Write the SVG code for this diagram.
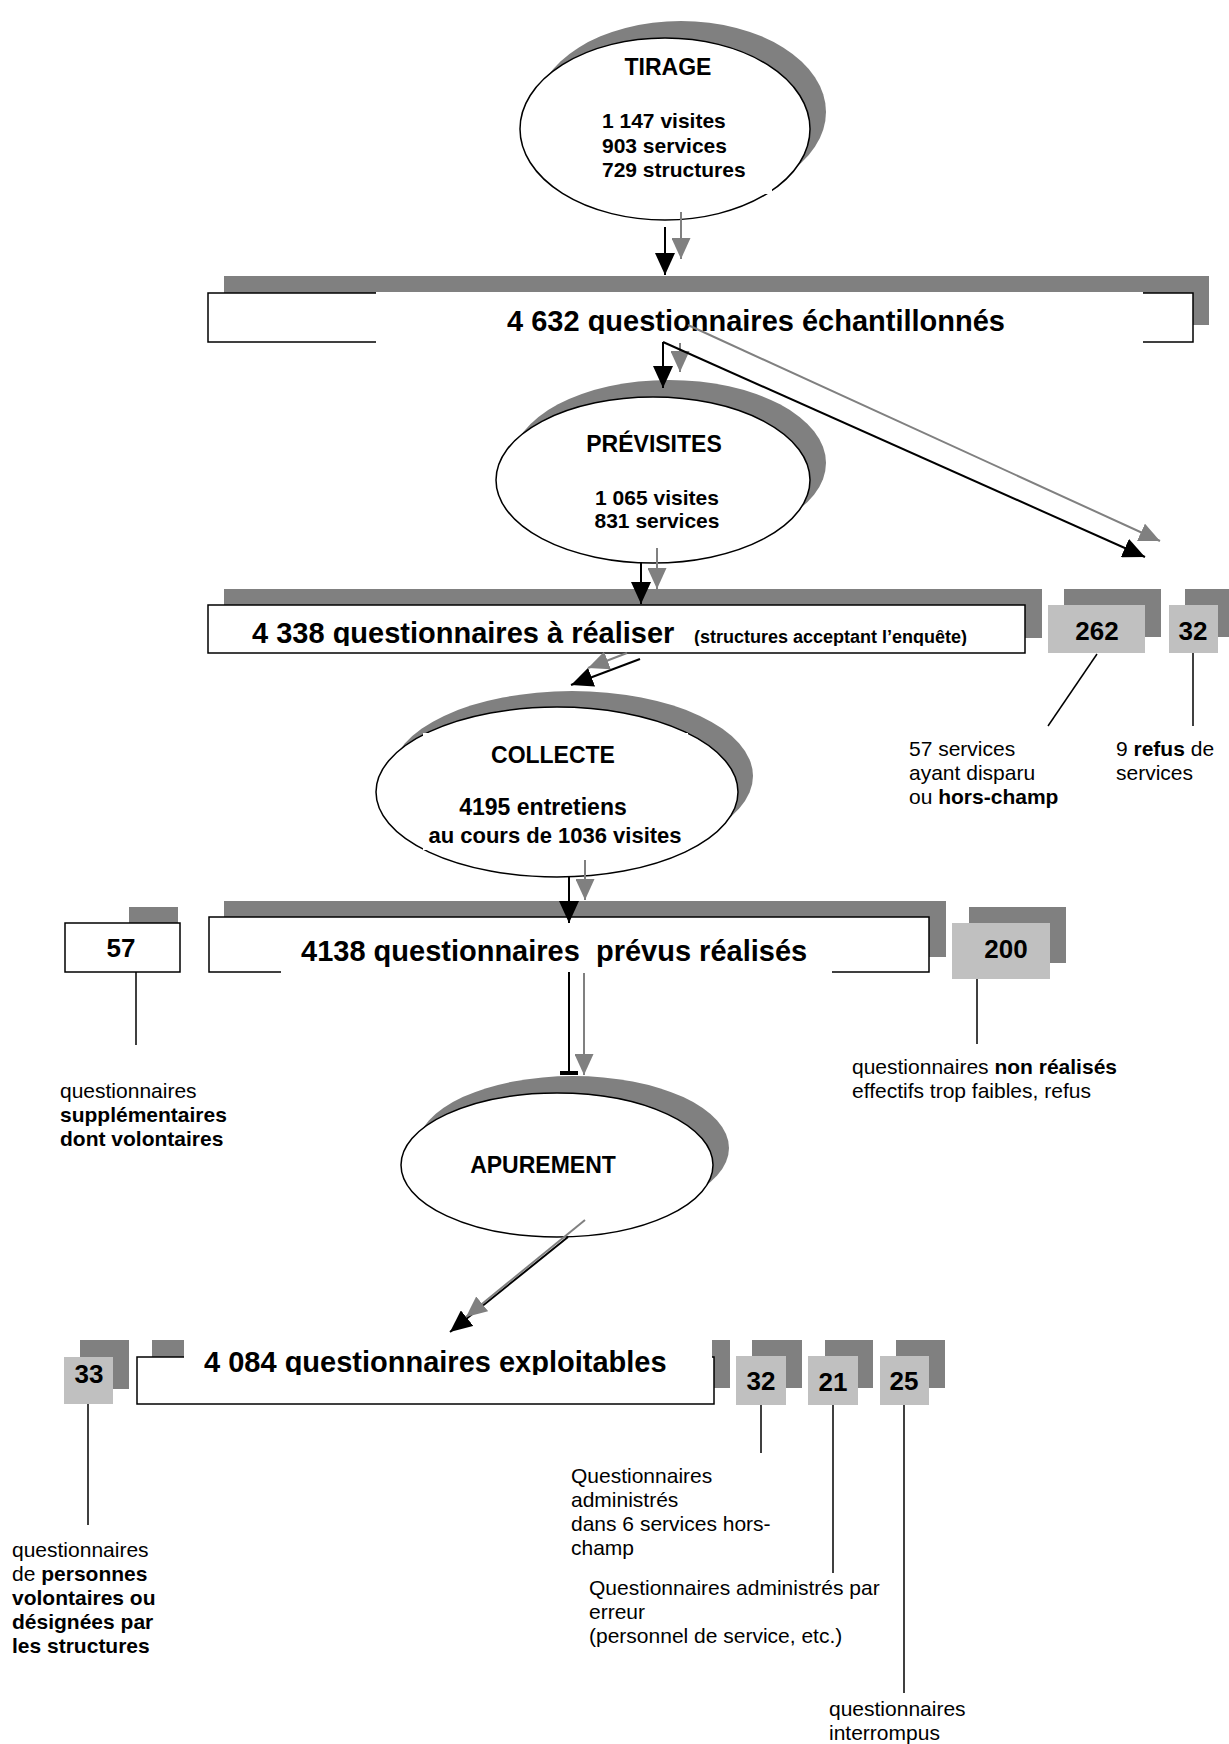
<svg xmlns="http://www.w3.org/2000/svg" width="1229" height="1744" viewBox="0 0 1229 1744">
<defs>
<style>
text{font-family:"Liberation Sans",Arial,sans-serif;fill:#000}
.t{font-size:23px;font-weight:bold;text-anchor:middle}
.b{font-size:21px;font-weight:bold}
.big{font-size:29px;font-weight:bold}
.sm{font-size:18px;font-weight:bold}
.num{font-size:26px;font-weight:bold;text-anchor:middle}
.lbl{font-size:21px}
.bo{font-weight:bold}
.sh{fill:#808080}
.lt{fill:#c0c0c0}
.wb{fill:#fff;stroke:#000;stroke-width:1.5}
.wf{fill:#fff}
.ln{stroke:#000;stroke-width:1.5;fill:none}
.ab{stroke:#000;stroke-width:2;fill:none;marker-end:url(#mb)}
.ag{stroke:#808080;stroke-width:2;fill:none;marker-end:url(#mg)}
</style>
<marker id="mb" viewBox="0 0 22 20" markerWidth="22" markerHeight="20" refX="22" refY="10" orient="auto" markerUnits="userSpaceOnUse"><path d="M0,0 L22,10 L0,20 z" fill="#000"/></marker>
<marker id="mg" viewBox="0 0 22 20" markerWidth="21" markerHeight="19" refX="22" refY="10" orient="auto" markerUnits="userSpaceOnUse"><path d="M0,0 L22,10 L0,20 z" fill="#808080"/></marker>
<clipPath id="c1"><rect x="200" y="270" width="1010" height="64"/></clipPath>
<clipPath id="c2"><rect x="200" y="590" width="830" height="56"/></clipPath>
<clipPath id="c3"><rect x="200" y="905" width="740" height="64"/></clipPath>
<clipPath id="c4"><rect x="140" y="1320" width="580" height="55"/></clipPath>
</defs>
<rect width="1229" height="1744" fill="#fff"/>

<g id="tirage">
<ellipse class="sh" cx="681" cy="112" rx="145" ry="91"/>
<ellipse class="wb" cx="665" cy="129" rx="145" ry="91"/>
<rect class="wf" x="740" y="150" width="32" height="44"/>
<text class="t" x="668" y="75">TIRAGE</text>
<text class="b" x="602" y="128">1 147 visites</text>
<text class="b" x="602" y="153">903 services</text>
<text class="b" x="602" y="177">729 structures</text>
</g>

<g id="echantillonnes">
<rect class="sh" x="224" y="276" width="985" height="49"/>
<rect class="wb" x="208" y="293" width="985" height="49"/>
<rect class="wf" x="376" y="292" width="767" height="52"/>
<text class="big" x="507" y="331" clip-path="url(#c1)">4 632 questionnaires échantillonnés</text>
</g>

<g id="previsites">
<ellipse class="sh" cx="669" cy="463" rx="157" ry="83"/>
<ellipse class="wb" cx="653" cy="480" rx="157" ry="83"/>
<text class="t" x="654" y="452">PRÉVISITES</text>
<text class="b" x="657" y="505" text-anchor="middle">1 065 visites</text>
<text class="b" x="657" y="528" text-anchor="middle">831 services</text>
</g>

<g id="a-realiser">
<rect class="sh" x="224" y="589" width="818" height="49"/>
<rect class="wb" x="208" y="605" width="817" height="48"/>
<text x="252" y="643" clip-path="url(#c2)"><tspan class="big">4 338 questionnaires à réaliser</tspan><tspan class="sm" x="689"> (structures acceptant l’enquête)</tspan></text>
</g>

<g id="n262">
<rect class="sh" x="1064" y="589" width="97" height="48"/>
<rect class="lt" x="1048" y="605" width="97" height="48"/>
<text class="num" x="1097" y="640">262</text>
<text class="lbl" x="909" y="756">57 services</text>
<text class="lbl" x="909" y="780">ayant disparu</text>
<text class="lbl" x="909" y="804">ou <tspan class="bo">hors-champ</tspan></text>
</g>

<g id="n32a">
<rect class="sh" x="1185" y="589" width="49" height="48"/>
<rect class="lt" x="1169" y="605" width="49" height="48"/>
<text class="num" x="1193" y="640">32</text>
<text class="lbl" x="1116" y="756">9 <tspan class="bo">refus</tspan> de</text>
<text class="lbl" x="1116" y="780">services</text>
</g>

<g id="collecte">
<ellipse class="sh" cx="572" cy="776" rx="181" ry="85"/>
<ellipse class="wb" cx="557" cy="792" rx="181" ry="85"/>
<rect class="wf" x="423" y="733" width="265" height="117"/>
<text class="t" x="553" y="763">COLLECTE</text>
<text class="b" x="543" y="815" text-anchor="middle" style="font-size:23px">4195 entretiens</text>
<text class="b" x="555" y="843" text-anchor="middle" style="font-size:22px">au cours de 1036 visites</text>
</g>

<g id="n57">
<rect class="sh" x="129" y="907" width="49" height="50"/>
<rect class="wb" x="65" y="923" width="115" height="49"/>
<text class="num" x="121" y="957">57</text>
<text class="lbl" x="60" y="1098">questionnaires</text>
<text class="lbl bo" x="60" y="1122">supplémentaires</text>
<text class="lbl bo" x="60" y="1146">dont volontaires</text>
</g>

<g id="realises">
<rect class="sh" x="224" y="901" width="722" height="56"/>
<rect class="wb" x="209" y="917" width="720" height="55"/>
<rect class="wf" x="281" y="962" width="551" height="13"/>
<text class="big" x="301" y="961" xml:space="preserve" clip-path="url(#c3)">4138 questionnaires  prévus réalisés</text>
</g>

<g id="n200">
<rect class="sh" x="969" y="907" width="97" height="56"/>
<rect class="lt" x="952" y="923" width="98" height="56"/>
<text class="num" x="1006" y="958">200</text>
<text class="lbl" x="852" y="1074">questionnaires <tspan class="bo">non réalisés</tspan></text>
<text class="lbl" x="852" y="1098">effectifs trop faibles, refus</text>
</g>

<g id="apurement">
<ellipse class="sh" cx="573" cy="1148" rx="156" ry="72"/>
<ellipse class="wb" cx="557" cy="1165" rx="156" ry="72"/>
<text class="t" x="543" y="1173">APUREMENT</text>
</g>

<g id="exploitables">
<rect class="sh" x="152" y="1340" width="578" height="48"/>
<rect class="wb" x="137" y="1357" width="577" height="47"/>
<rect class="wf" x="184" y="1333" width="528" height="44"/>
<text class="big" x="204" y="1372" clip-path="url(#c4)">4 084 questionnaires exploitables</text>
</g>

<g id="n33">
<rect class="sh" x="80" y="1340" width="49" height="49"/>
<rect class="lt" x="64" y="1357" width="49" height="47"/>
<text class="num" x="89" y="1383">33</text>
<text class="lbl" x="12" y="1557">questionnaires</text>
<text class="lbl" x="12" y="1581">de <tspan class="bo">personnes</tspan></text>
<text class="lbl bo" x="12" y="1605">volontaires ou</text>
<text class="lbl bo" x="12" y="1629">désignées par</text>
<text class="lbl bo" x="12" y="1653">les structures</text>
</g>

<g id="n32b">
<rect class="sh" x="752" y="1340" width="50" height="48"/>
<rect class="lt" x="736" y="1356" width="50" height="49"/>
<text class="num" x="761" y="1390">32</text>
<text class="lbl" x="571" y="1483">Questionnaires</text>
<text class="lbl" x="571" y="1507">administrés</text>
<text class="lbl" x="571" y="1531">dans 6 services hors-</text>
<text class="lbl" x="571" y="1555">champ</text>
</g>

<g id="n21">
<rect class="sh" x="825" y="1340" width="48" height="48"/>
<rect class="lt" x="808" y="1356" width="50" height="49"/>
<text class="num" x="833" y="1391">21</text>
<text class="lbl" x="589" y="1595">Questionnaires administrés par</text>
<text class="lbl" x="589" y="1619">erreur</text>
<text class="lbl" x="589" y="1643">(personnel de service, etc.)</text>
</g>

<g id="n25">
<rect class="sh" x="896" y="1340" width="49" height="48"/>
<rect class="lt" x="880" y="1356" width="49" height="49"/>
<text class="num" x="904" y="1390">25</text>
<text class="lbl" x="829" y="1716">questionnaires</text>
<text class="lbl" x="829" y="1740">interrompus</text>
</g>

<g id="connectors">
<line class="ab" x1="665" y1="227" x2="665" y2="275"/>
<line class="ag" x1="681" y1="212" x2="681" y2="259"/>
<line class="ab" x1="663" y1="342" x2="663" y2="388"/>
<line class="ag" x1="680" y1="343" x2="680" y2="372"/>
<line class="ab" x1="663" y1="342" x2="1145" y2="557"/>
<line class="ag" x1="688" y1="325" x2="1160" y2="541"/>
<line class="ab" x1="641" y1="562" x2="641" y2="604"/>
<line class="ag" x1="657" y1="548" x2="657" y2="589"/>
<line class="ab" x1="640" y1="659" x2="571" y2="685"/>
<line class="ag" x1="627" y1="653" x2="588" y2="668"/>
<line class="ab" x1="569" y1="877" x2="569" y2="923"/>
<line class="ag" x1="585" y1="860" x2="585" y2="900"/>
<line class="ln" x1="569" y1="972" x2="569" y2="1073" style="stroke-width:2"/>
<rect x="560" y="1071" width="18" height="4" fill="#000"/>
<line class="ag" x1="584" y1="973" x2="584" y2="1075"/>
<line class="ab" x1="568" y1="1237" x2="450" y2="1332"/>
<line class="ag" x1="585" y1="1220" x2="466" y2="1317"/>
<line class="ln" x1="1097" y1="654" x2="1048" y2="726"/>
<line class="ln" x1="1193" y1="653" x2="1193" y2="726"/>
<line class="ln" x1="136" y1="972" x2="136" y2="1045"/>
<line class="ln" x1="977" y1="979" x2="977" y2="1044"/>
<line class="ln" x1="88" y1="1404" x2="88" y2="1525"/>
<line class="ln" x1="761" y1="1405" x2="761" y2="1453"/>
<line class="ln" x1="833" y1="1405" x2="833" y2="1573"/>
<line class="ln" x1="904" y1="1405" x2="904" y2="1693"/>
</g>
</svg>
